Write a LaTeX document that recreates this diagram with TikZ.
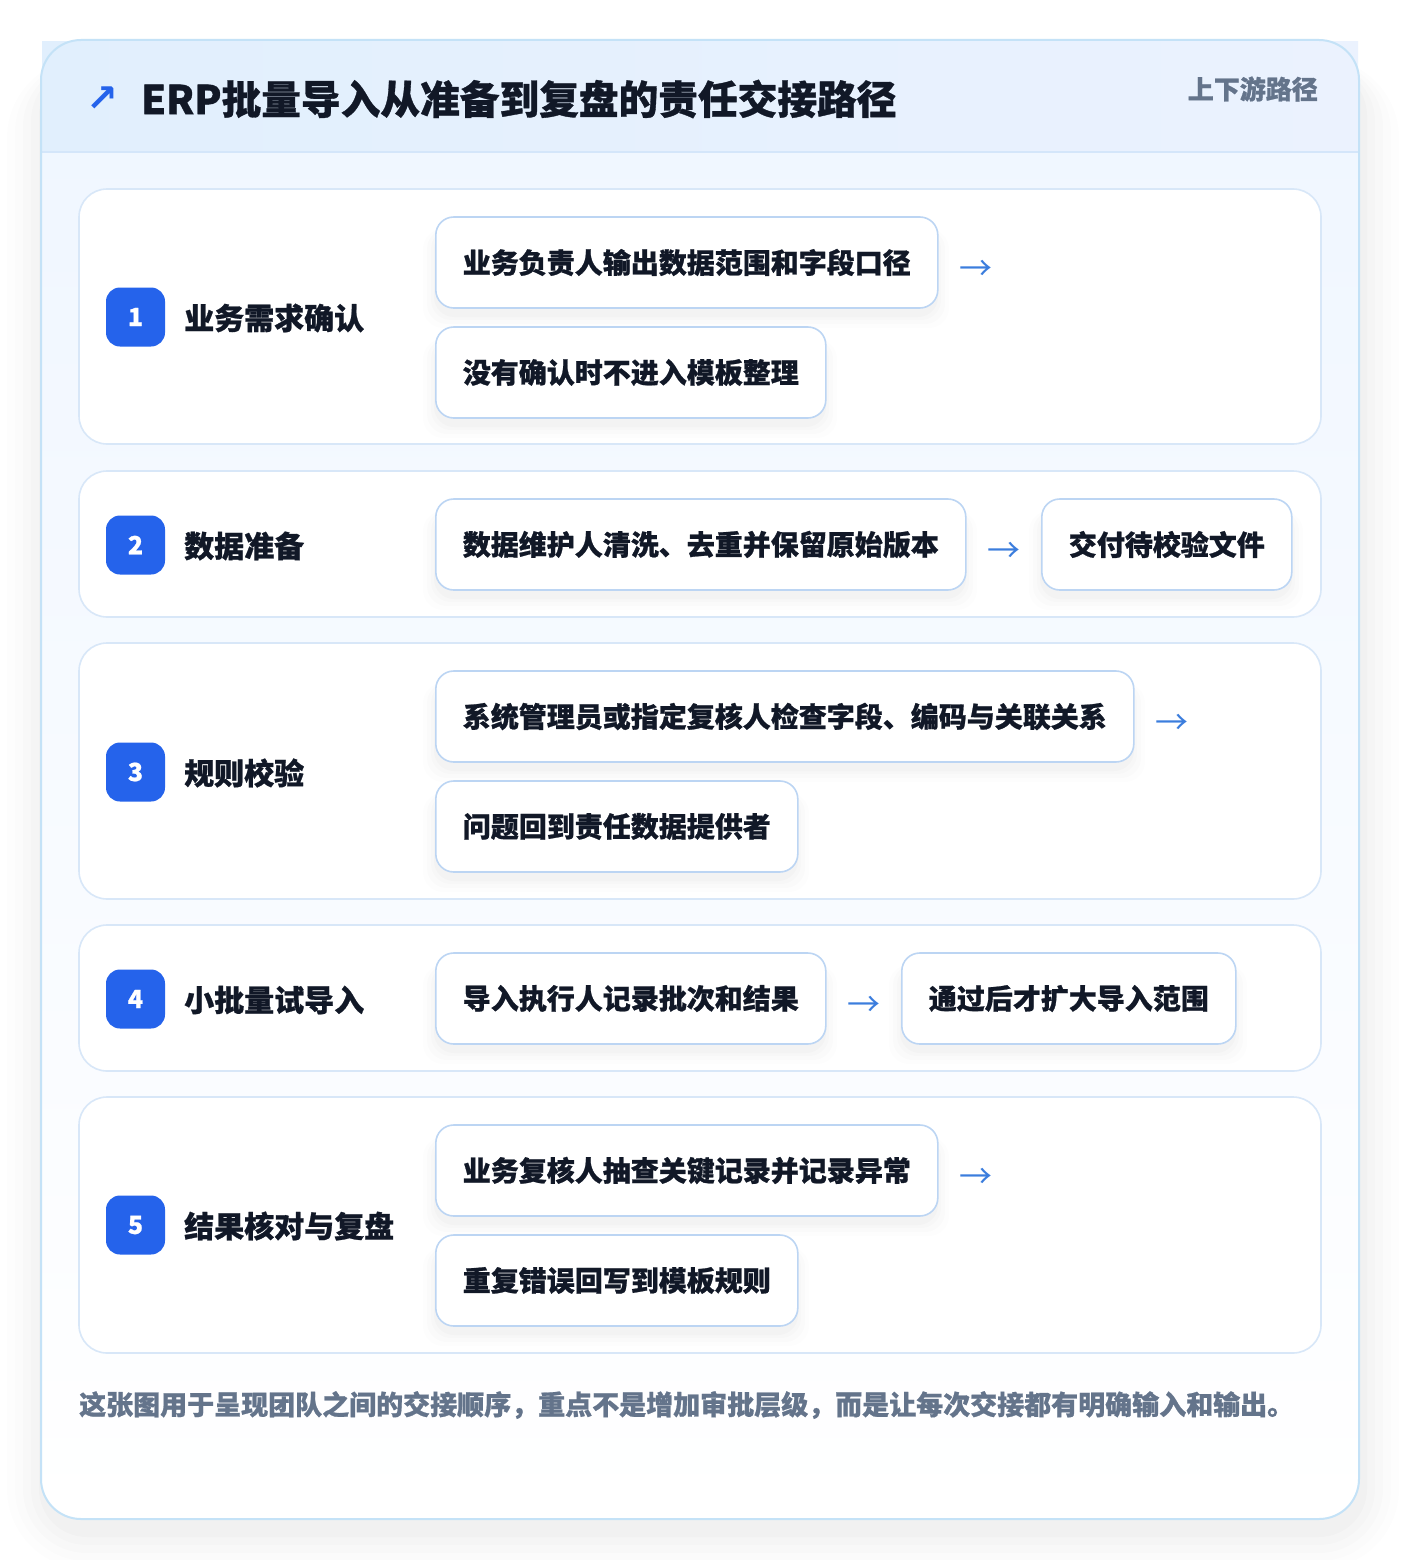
\documentclass[tikz,border=0pt]{standalone}
\usepackage{fontspec}
\setmainfont{Noto Sans CJK SC}[BoldFeatures={FakeBold=0.8}]
\newfontfamily\symfont{DejaVu Sans}
\definecolor{cardline}{HTML}{C4E2F7}
\definecolor{headL}{HTML}{E1EFFD}
\definecolor{headR}{HTML}{EBF2FE}
\definecolor{headline}{HTML}{D4E6FA}
\definecolor{bodytop}{HTML}{EFF6FF}
\definecolor{panelline}{HTML}{D8E7F8}
\definecolor{boxline}{HTML}{BCD5F3}
\definecolor{badge}{HTML}{2563EB}
\definecolor{ink}{HTML}{111827}
\definecolor{muted}{HTML}{64748B}
\definecolor{arrowc}{HTML}{3B7DDD}
\tikzset{
  panel/.style={draw=panelline, line width=1.6pt, fill=white, rounded corners=28pt},
  itembox/.style={draw=boxline, line width=1.6pt, fill=white, rounded corners=18pt,
    minimum height=91pt, inner xsep=0pt, anchor=west,
    font=\fontsize{28}{28}\selectfont\bfseries, text=ink},
  badgebox/.style={fill=badge, rounded corners=14pt, minimum width=59pt, minimum height=59pt,
    inner sep=0pt, text=white, font=\fontsize{25}{25}\selectfont\bfseries},
  steptitle/.style={anchor=west, inner sep=0pt, text=ink, font=\fontsize{30}{30}\selectfont\bfseries},
  flowarrow/.style={inner sep=0pt, text=arrowc, font=\fontsize{33}{33}\selectfont},
}
% name, left x, top y, width, text
\newcommand\ibox[5]{%
  \foreach \e/\o in {14/0.008, 10/0.01, 6/0.012, 3/0.014}{%
    \fill[black, opacity=\o, rounded corners=20pt] (#2-\e+2, #3+12) rectangle (#2+#4+\e-2, #3+91+6+\e);
  }%
  \node[itembox, minimum width=#4pt] (#1) at (#2, #3+45.5) {#5};
}
\begin{document}
\begin{tikzpicture}[x=1pt, y=-1pt]
\useasboundingbox (0,0) rectangle (1400,1560);
\fill[white] (0,0) rectangle (1400,1560);
% card shadow
\foreach \e/\o in {40/0.007, 32/0.009, 24/0.011, 16/0.013, 8/0.015}{
  \fill[black, opacity=\o, rounded corners=40pt+\e] (41-\e+6, 40+30-\e*0.3) rectangle (1359+\e, 1519+10+\e);
}
% card
\shade[top color=bodytop, bottom color=white, rounded corners=40pt] (41,40) rectangle (1359,1519);
\fill[left color=headL, right color=headR] (42,42) rectangle (1358,152);
\draw[headline, line width=1.5pt] (42,152) -- (1358,152);
\draw[cardline, line width=2pt, rounded corners=40pt] (41,40) rectangle (1359,1519);
% header texts
\node[text=badge, inner sep=0pt, font=\symfont\bfseries\fontsize{38}{38}\selectfont] (icon) at (102,99) {↗};
\node[anchor=west, inner sep=0pt, text=ink, font=\fontsize{39.7}{40}\selectfont\bfseries] (title) at (141,99) {ERP批量导入从准备到复盘的责任交接路径};
\node[anchor=east, inner sep=0pt, text=muted, font=\fontsize{26}{26}\selectfont\bfseries] (tag) at (1318,89) {上下游路径};
% panels
\draw[panel] (79,189) rectangle (1321,444);
\draw[panel] (79,471) rectangle (1321,617);
\draw[panel] (79,643) rectangle (1321,899);
\draw[panel] (79,925) rectangle (1321,1071);
\draw[panel] (79,1097) rectangle (1321,1353);
% step 1
\node[badgebox] (b1) at (135.5,317) {1};
\node[steptitle] (t1) at (184,318) {业务需求确认};
\ibox{s1a}{435}{217}{502}{业务负责人输出数据范围和字段口径}
\ibox{s1b}{435}{327}{390}{没有确认时不进入模板整理}
\node[flowarrow] (a1) at (976,270) {→};
% step 2
\node[badgebox] (b2) at (135.5,545) {2};
\node[steptitle] (t2) at (184,546) {数据准备};
\ibox{s2a}{435}{499}{530}{数据维护人清洗、去重并保留原始版本}
\node[flowarrow] (a2) at (1004,552) {→};
\ibox{s2b}{1041}{499}{250}{交付待校验文件}
% step 3
\node[badgebox] (b3) at (135.5,772) {3};
\node[steptitle] (t3) at (184,773) {规则校验};
\ibox{s3a}{435}{671}{698}{系统管理员或指定复核人检查字段、编码与关联关系}
\node[flowarrow] (a3) at (1172,724) {→};
\ibox{s3b}{435}{781}{362}{问题回到责任数据提供者}
% step 4
\node[badgebox] (b4) at (135.5,999) {4};
\node[steptitle] (t4) at (184,1000) {小批量试导入};
\ibox{s4a}{435}{953}{390}{导入执行人记录批次和结果}
\node[flowarrow] (a4) at (864,1006) {→};
\ibox{s4b}{901}{953}{334}{通过后才扩大导入范围}
% step 5
\node[badgebox] (b5) at (135.5,1225) {5};
\node[steptitle] (t5) at (184,1226) {结果核对与复盘};
\ibox{s5a}{435}{1125}{502}{业务复核人抽查关键记录并记录异常}
\node[flowarrow] (a5) at (976,1178) {→};
\ibox{s5b}{435}{1235}{362}{重复错误回写到模板规则}
% footer
\node[anchor=west, inner sep=0pt, text=muted, font=\fontsize{27}{27}\selectfont\bfseries] (foot) at (79,1405) {这张图用于呈现团队之间的交接顺序，重点不是增加审批层级，而是让每次交接都有明确输入和输出。};
\end{tikzpicture}
\end{document}
